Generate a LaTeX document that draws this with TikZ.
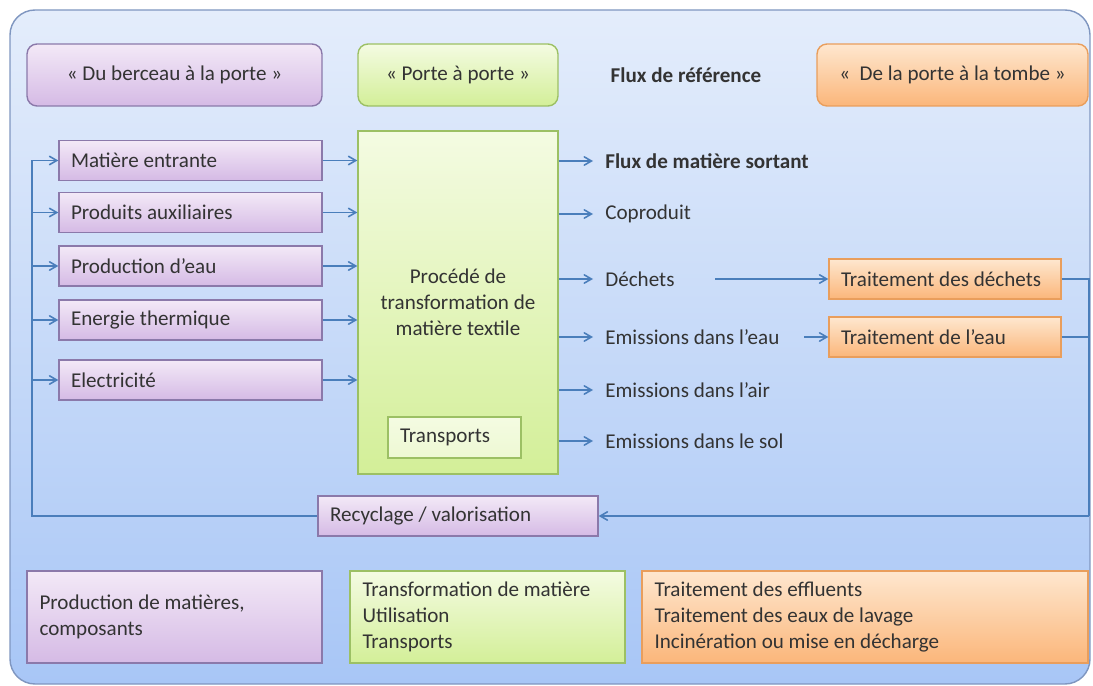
\documentclass[tikz,border=0pt]{standalone}
\usepackage{fontspec}
\setmainfont{Carlito}
\usepackage{xcolor}
\usepackage{tikz}
\usetikzlibrary{shapes.geometric, arrows, positioning}

\definecolor{fondhaut}{HTML}{E4EDFB}
\definecolor{fondbas}{HTML}{A8C6F6}
\definecolor{fondbord}{HTML}{7F96C0}
\definecolor{bleufleche}{HTML}{4A7EBB}
\definecolor{texte}{HTML}{333333}
\definecolor{mauvehaut}{HTML}{F3E9F7}
\definecolor{mauvebas}{HTML}{D5BAE5}
\definecolor{mauvebord}{HTML}{8B79AA}
\definecolor{verthaut}{HTML}{F4FBE2}
\definecolor{vertbas}{HTML}{D3EF98}
\definecolor{vertbord}{HTML}{9CC064}
\definecolor{orangehaut}{HTML}{FEE7CF}
\definecolor{orangebas}{HTML}{FBB67A}
\definecolor{orangebord}{HTML}{E99E5C}

\tikzstyle{mauve} = [rectangle, draw=mauvebord, line width=0.8pt,
top color=mauvehaut, bottom color=mauvebas]
\tikzstyle{vert} = [rectangle, draw=vertbord, line width=0.8pt,
top color=verthaut, bottom color=vertbas]
\tikzstyle{orange} = [rectangle, draw=orangebord, line width=0.8pt,
top color=orangehaut, bottom color=orangebas]
\tikzstyle{etape} = [rounded corners=0.2cm, minimum height=1.24cm]
\tikzstyle{entree} = [mauve, minimum width=5.26cm, minimum height=0.8cm,
text width=4.78cm, inner xsep=0.24cm, align=flush left]
\tikzstyle{traitement} = [orange, minimum width=4.64cm, minimum height=0.8cm,
text width=4.16cm, inner xsep=0.24cm, align=flush left]
\tikzstyle{sortie} = [anchor=west, inner xsep=0.24cm]
\tikzstyle{legende} = [minimum height=1.84cm, inner xsep=0.25cm, align=flush left]
\tikzstyle{ligne} = [draw=bleufleche, line width=0.9pt]
\tikzstyle{fleche} = [ligne, ->, >=angle 60]

\begin{document}
\begin{tikzpicture}[x=0.02cm, y=-0.02cm,
every node/.style={font=\fontsize{12}{14.8}\selectfont, text=texte}]

\useasboundingbox (0,0) rectangle (1093,686);

% Fond
\draw[draw=fondbord, line width=0.8pt, top color=fondhaut, bottom color=fondbas,
rounded corners=0.5cm] (10,10) rectangle (1090,684);

% Les trois étapes
\node[mauve, etape, minimum width=5.9cm] (berceau) at (174.5,75) {« Du berceau à la porte »};
\node[vert, etape, minimum width=4cm] (porte) at (458,75) {« Porte à porte »};
\node[font=\fontsize{12}{14.8}\selectfont\bfseries] (reference) at (686,75) {Flux de référence};
\node[orange, etape, minimum width=5.42cm] (tombe) at (952.5,75) {«~ De la porte à la tombe »};

% Entrées
\node[entree] (matiere) at (190.5,160.5) {Matière entrante};
\node[entree] (auxil) at (190.5,212.5) {Produits auxiliaires};
\node[entree] (eau) at (190.5,266) {Production d’eau};
\node[entree] (energie) at (190.5,320) {Energie thermique};
\node[entree] (elec) at (190.5,380) {Electricité};

% Procédé
\node[vert, minimum width=4cm, minimum height=6.86cm, align=center] (procede) at (458,302.5)
{Procédé de\\transformation de\\matière textile};
\node[vert, top color=verthaut, bottom color=verthaut!80!vertbas, minimum width=2.66cm,
minimum height=0.82cm, text width=2.18cm, inner xsep=0.24cm, align=flush left] (transp) at (454.5,437.5) {Transports};

% Sorties
\node[sortie, font=\fontsize{12}{14.8}\selectfont\bfseries] (fms) at (593,161) {Flux de matière sortant};
\node[sortie] (copro) at (593,214) {Coproduit};
\node[sortie] (dechets) at (593,279) {Déchets};
\node[sortie] (emeau) at (593,337) {Emissions dans l’eau};
\node[sortie] (emair) at (593,390) {Emissions dans l’air};
\node[sortie] (emsol) at (593,441) {Emissions dans le sol};

% Traitements
\node[traitement] (trdech) at (945,279) {Traitement des déchets};
\node[traitement] (treau) at (945,337) {Traitement de l’eau};

% Recyclage
\node[mauve, minimum width=5.6cm, minimum height=0.8cm, text width=5.12cm,
inner xsep=0.24cm, align=flush left] (recyc) at (458,516) {Recyclage / valorisation};

% Légendes du bas
\node[mauve, legende, minimum width=5.9cm, text width=5.4cm] (legmauve) at (174.5,617)
{Production de matières,\\composants};
\node[vert, legende, minimum width=5.5cm, text width=5cm] (legvert) at (487.5,617)
{Transformation de matière\\Utilisation\\Transports};
\node[orange, legende, minimum width=8.92cm, text width=8.42cm] (legorange) at (865,617)
{Traitement des effluents\\Traitement des eaux de lavage\\Incinération ou mise en décharge};

% Flèches
\coordinate (gauche) at (32,516);
\coordinate (droitehaut) at (1089,279);
\coordinate (droitebas) at (1089,516);
\coordinate (dechdep) at (715,279);
\coordinate (eaudep) at (804,337);

\draw[ligne] (recyc.west) -- (gauche) -- (gauche |- matiere);
\foreach \n in {matiere, auxil, eau, energie, elec} {
\draw[fleche] (gauche |- \n) -- (\n);
\draw[fleche] (\n) -- (procede.west |- \n);
}
\foreach \s in {fms, copro, dechets, emeau, emair, emsol}
\draw[fleche] (procede.east |- \s) -- (\s);

\draw[fleche] (dechdep) -- (trdech);
\draw[fleche] (eaudep) -- (treau);
\draw[ligne] (trdech.east) -- (droitehaut) -- (droitebas);
\draw[ligne] (treau.east) -- (treau.east -| droitehaut);
\draw[fleche] (droitebas) -- (recyc);

\end{tikzpicture}
\end{document}
